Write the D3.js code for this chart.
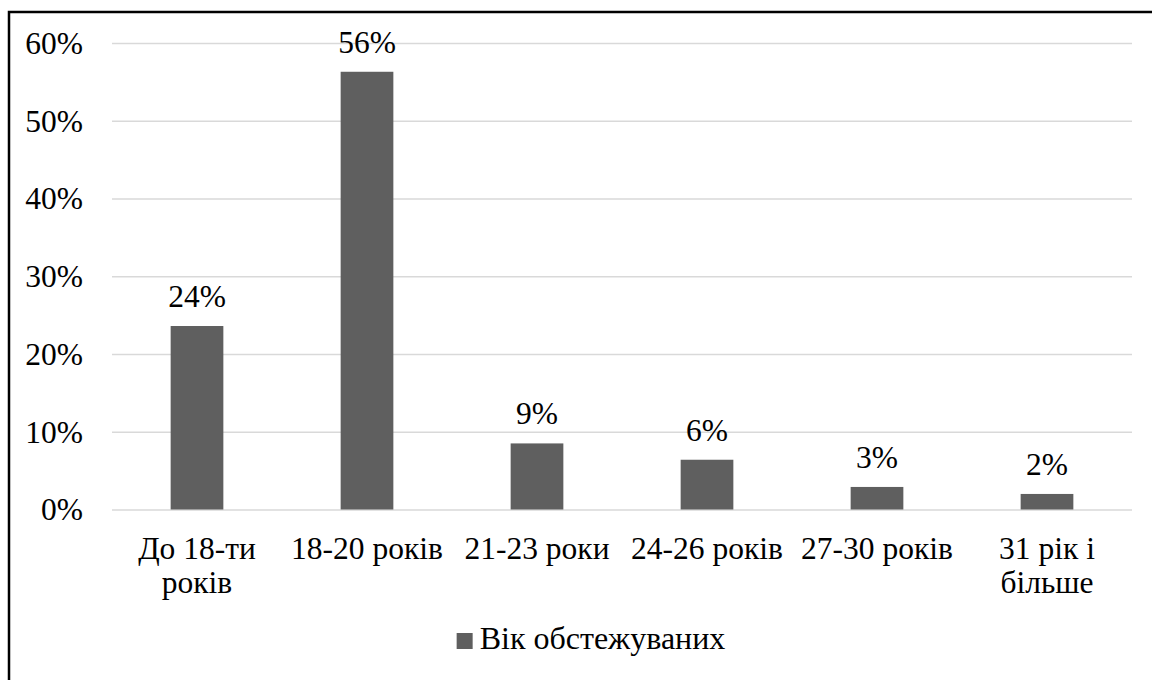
<!DOCTYPE html>
<html>
<head>
<meta charset="utf-8">
<script src="https://cdn.jsdelivr.net/npm/d3@7"></script>
<style>
  html, body { margin: 0; padding: 0; background: #fff; }
  svg { display: block; }
</style>
</head>
<body>
<svg id="chart" width="1152" height="680"></svg>
<script>
// Age groups of the surveyed respondents (share of total)
const categories = ["До 18-ти років", "18-20 років", "21-23 роки", "24-26 років", "27-30 років", "31 рік і більше"];
const values = [0.236, 0.563, 0.085, 0.064, 0.029, 0.020];
const yTicks = [0, 0.1, 0.2, 0.3, 0.4, 0.5, 0.6];
const seriesName = "Вік обстежуваних";

const FONT = "Tinos";
const FS = "31.5px";
const BAR = "#5f5f5f";

const svg = d3.select("#chart");
const W = 1152, H = 680;
const plotLeft = 112, plotRight = 1132;
const plotTop = 43, plotBottom = 509.5;

// Outer frame (its right and bottom edges fall outside the canvas)
svg.append("rect")
  .attr("x", 9).attr("y", 12)
  .attr("width", W + 20).attr("height", H + 20)
  .attr("fill", "none").attr("stroke", "#000").attr("stroke-width", 2.5);

const x = d3.scaleBand()
  .domain(categories)
  .range([plotLeft, plotRight])
  .paddingInner(0.69)
  .paddingOuter(0.345);

const y = d3.scaleLinear()
  .domain([0, 0.6])
  .range([plotBottom, plotTop]);

const pct = d3.format(".0%");

// Horizontal gridlines with percent labels
const yAxis = d3.axisLeft(y)
  .tickValues(yTicks)
  .tickFormat(pct)
  .tickSize(-(plotRight - plotLeft))
  .tickPadding(29);

const gy = svg.append("g")
  .attr("transform", `translate(${plotLeft},0)`)
  .call(yAxis)
  .attr("font-family", null)
  .attr("font-size", null);
gy.select(".domain").remove();
gy.selectAll(".tick line").attr("stroke", "#d9d9d9").attr("stroke-width", 1.6);
gy.selectAll(".tick text")
  .style("font-family", FONT)
  .style("font-size", FS)
  .attr("fill", "#000")
  .attr("dy", "0.33em");

// Bars
svg.append("g").selectAll("rect")
  .data(values)
  .join("rect")
  .attr("x", (d, i) => x(categories[i]))
  .attr("y", d => y(d))
  .attr("width", x.bandwidth())
  .attr("height", d => plotBottom - y(d))
  .attr("fill", BAR);

// Value labels above the bars
svg.append("g").selectAll("text")
  .data(values)
  .join("text")
  .attr("x", (d, i) => x(categories[i]) + x.bandwidth() / 2)
  .attr("y", d => y(d) - 19)
  .attr("text-anchor", "middle")
  .style("font-family", FONT)
  .style("font-size", FS)
  .attr("fill", "#000")
  .text(d => pct(d));

// Category labels, wrapped to the band width
const labelG = svg.append("g");
categories.forEach(cat => {
  const cx = x(cat) + x.bandwidth() / 2;
  const t = labelG.append("text")
    .attr("x", cx)
    .attr("y", 559)
    .attr("text-anchor", "middle")
    .style("font-family", FONT)
    .style("font-size", FS)
    .attr("fill", "#000");
  const words = cat.split(" ");
  const maxW = x.step() - 4;
  let line = [];
  let tspan = t.append("tspan").attr("x", cx).attr("dy", 0);
  words.forEach(w => {
    line.push(w);
    tspan.text(line.join(" "));
    if (tspan.node().getComputedTextLength() > maxW && line.length > 1) {
      line.pop();
      tspan.text(line.join(" "));
      line = [w];
      tspan = t.append("tspan").attr("x", cx).attr("dy", 34).text(w);
    }
  });
});

// Legend, centred slightly left of the plot's midpoint
const legendText = svg.append("text")
  .attr("y", 649)
  .style("font-family", FONT)
  .style("font-size", "32px")
  .attr("fill", "#000")
  .text(seriesName);
const lw = legendText.node().getComputedTextLength();
const sq = 16, gap = 7;
const legendCenter = (plotLeft + plotRight) / 2 - 31;
const lx = legendCenter - (sq + gap + lw) / 2;
svg.append("rect")
  .attr("x", lx).attr("y", 649 - sq)
  .attr("width", sq).attr("height", sq)
  .attr("fill", BAR);
legendText.attr("x", lx + sq + gap);
</script>
</body>
</html>
